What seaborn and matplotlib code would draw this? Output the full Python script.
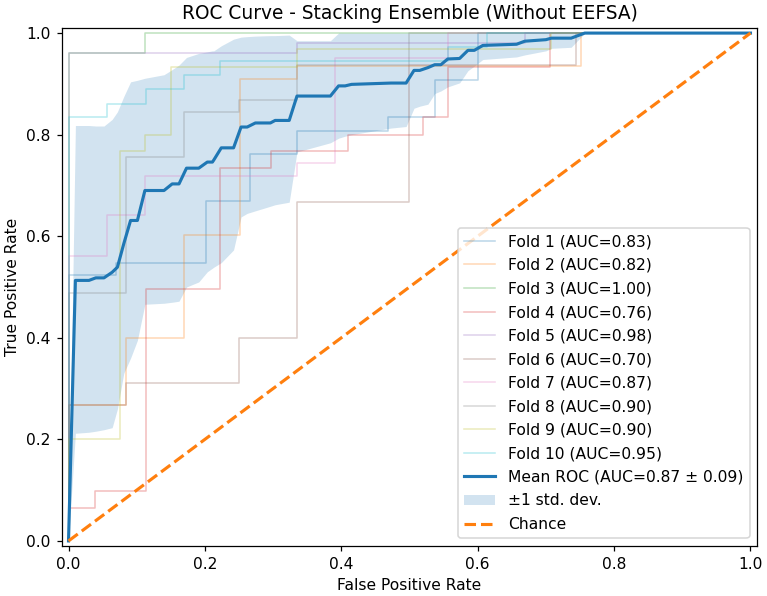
import numpy as np
import pandas as pd
import matplotlib
matplotlib.use("Agg")
import matplotlib.pyplot as plt
import seaborn as sns

# ---- data ----
fold_labels = ["Fold 1 (AUC=0.83)", "Fold 2 (AUC=0.82)", "Fold 3 (AUC=1.00)", "Fold 4 (AUC=0.76)",
               "Fold 5 (AUC=0.98)", "Fold 6 (AUC=0.70)", "Fold 7 (AUC=0.87)", "Fold 8 (AUC=0.90)",
               "Fold 9 (AUC=0.90)", "Fold 10 (AUC=0.95)"]

fold1_fpr = [0, 0, 0.069, 0.069, 0.202, 0.202, 0.2665, 0.2665, 0.335, 0.335, 0.4685, 0.4685, 0.537, 0.537, 0.60, 0.60, 1.0]
fold1_tpr = [0, 0.523, 0.523, 0.548, 0.548, 0.669, 0.669, 0.762, 0.762, 0.808, 0.808, 0.835, 0.835, 0.907, 0.907, 1.0, 1.0]

fold2_fpr = [0, 0, 0.085, 0.085, 0.169, 0.169, 0.2518, 0.2518, 0.335, 0.335, 0.752, 0.752, 1.0]
fold2_tpr = [0, 0.267, 0.267, 0.40, 0.40, 0.602, 0.602, 0.91, 0.91, 0.936, 0.936, 1.0, 1.0]

fold3_fpr = [0, 0, 0.112, 0.112, 1.0]
fold3_tpr = [0, 0.96, 0.96, 1.0, 1.0]

fold4_fpr = [0, 0, 0.0386, 0.0386, 0.113, 0.113, 0.2225, 0.2225, 0.297, 0.297, 0.41, 0.41, 0.52, 0.52, 0.556, 0.556, 0.706, 0.706, 1.0]
fold4_tpr = [0, 0.064, 0.064, 0.099, 0.099, 0.497, 0.497, 0.734, 0.734, 0.767, 0.767, 0.80, 0.80, 0.835, 0.835, 0.934, 0.934, 1.0, 1.0]

fold5_fpr = [0, 0, 0.335, 0.335, 0.669, 0.669, 1.0]
fold5_tpr = [0, 0.96, 0.96, 0.98, 0.98, 1.0, 1.0]

fold6_fpr = [0, 0, 0.085, 0.085, 0.25, 0.25, 0.335, 0.335, 0.5, 0.5, 0.744, 0.744, 1.0]
fold6_tpr = [0, 0.267, 0.267, 0.311, 0.311, 0.40, 0.40, 0.668, 0.668, 0.937, 0.937, 1.0, 1.0]

fold7_fpr = [0, 0, 0.056, 0.056, 0.112, 0.112, 0.335, 0.335, 0.391, 0.391, 0.556, 0.556, 1.0]
fold7_tpr = [0, 0.562, 0.562, 0.641, 0.641, 0.718, 0.718, 0.744, 0.744, 0.951, 0.951, 1.0, 1.0]

fold8_fpr = [0, 0, 0.085, 0.085, 0.169, 0.169, 0.25, 0.25, 0.335, 0.335, 0.5, 0.5, 1.0]
fold8_tpr = [0, 0.488, 0.488, 0.756, 0.756, 0.845, 0.845, 0.8675, 0.8675, 0.937, 0.937, 1.0, 1.0]

fold9_fpr = [0, 0, 0.075, 0.075, 0.112, 0.112, 0.15, 0.15, 0.335, 0.335, 0.708, 0.708, 1.0]
fold9_tpr = [0, 0.2, 0.2, 0.768, 0.768, 0.80, 0.80, 0.934, 0.934, 0.969, 0.969, 1.0, 1.0]

fold10_fpr = [0, 0, 0.056, 0.056, 0.113, 0.113, 0.169, 0.169, 0.2225, 0.2225, 0.557, 0.557, 0.613, 0.613, 1.0]
fold10_tpr = [0, 0.835, 0.835, 0.861, 0.861, 0.889, 0.889, 0.917, 0.917, 0.946, 0.946, 0.973, 0.973, 1.0, 1.0]

mean_fpr = [0, 0.0101, 0.030, 0.040, 0.052, 0.064, 0.0717, 0.081, 0.091, 0.101, 0.112, 0.140, 0.152, 0.162,
            0.173, 0.191, 0.2035, 0.211, 0.213, 0.224, 0.242, 0.253, 0.262, 0.274, 0.296, 0.303, 0.3236,
            0.335, 0.384, 0.396, 0.4056, 0.415, 0.473, 0.495, 0.5066, 0.515, 0.527, 0.537, 0.546, 0.556,
            0.5735, 0.5857, 0.595, 0.6076, 0.657, 0.669, 0.700, 0.708, 0.737, 0.757, 1.0]
mean_tpr = [0, 0.513, 0.513, 0.518, 0.518, 0.529, 0.539, 0.585, 0.631, 0.631, 0.690, 0.690, 0.703, 0.703,
            0.734, 0.734, 0.746, 0.746, 0.750, 0.774, 0.774, 0.815, 0.815, 0.823, 0.823, 0.828, 0.828,
            0.876, 0.876, 0.896, 0.896, 0.899, 0.9016, 0.9016, 0.9265, 0.9265, 0.932, 0.9377, 0.9377, 0.949,
            0.950, 0.966, 0.966, 0.9757, 0.978, 0.984, 0.987, 0.990, 0.990, 1.0, 1.0]
tpr_upper = [0, 0.818, 0.818, 0.817, 0.817, 0.83, 0.845, 0.875, 0.904, 0.907, 0.911, 0.918, 0.928, 0.937,
             0.952, 0.960, 0.963, 0.965, 0.965, 0.975, 0.988, 0.992, 0.993, 0.994, 0.995, 0.995, 0.996,
             0.985, 0.985, 1.0, 1.0, 1.0, 1.0, 1.0, 1.0, 1.0, 1.0, 1.0, 1.0, 1.0,
             1.0, 1.0, 1.0, 1.0, 1.0, 1.0, 1.0, 1.0, 1.0, 1.0, 1.0]
tpr_lower = [0, 0.212, 0.214, 0.216, 0.219, 0.223, 0.26, 0.33, 0.36, 0.395, 0.466, 0.468, 0.470, 0.472,
             0.50, 0.51, 0.53, 0.537, 0.539, 0.548, 0.573, 0.638, 0.645, 0.650, 0.659, 0.662, 0.667,
             0.766, 0.784, 0.793, 0.797, 0.800, 0.813, 0.816, 0.852, 0.856, 0.860, 0.881, 0.886, 0.894,
             0.902, 0.926, 0.935, 0.948, 0.953, 0.957, 0.965, 0.970, 0.972, 1.0, 1.0]

mean_label = "Mean ROC (AUC=0.87 \u00b1 0.09)"
std_label = "\u00b11 std. dev."
chance_label = "Chance"
chance_x = [0, 1]
chance_y = [0, 1]

fold_fprs = [fold1_fpr, fold2_fpr, fold3_fpr, fold4_fpr, fold5_fpr,
             fold6_fpr, fold7_fpr, fold8_fpr, fold9_fpr, fold10_fpr]
fold_tprs = [fold1_tpr, fold2_tpr, fold3_tpr, fold4_tpr, fold5_tpr,
             fold6_tpr, fold7_tpr, fold8_tpr, fold9_tpr, fold10_tpr]

# ---- figure ----
DPI = 112
fig = plt.figure(figsize=(767 / DPI, 596 / DPI), dpi=DPI)
ax = fig.add_axes([61.7 / 767, 50 / 596, 695.6 / 767, 518 / 596])

palette = sns.color_palette("tab10", 10)
for i in range(10):
    df = pd.DataFrame({"fpr": fold_fprs[i], "tpr": fold_tprs[i]})
    sns.lineplot(data=df, x="fpr", y="tpr", sort=False, estimator=None, ax=ax,
                 color=palette[i], lw=1, alpha=0.3, label=fold_labels[i])

mdf = pd.DataFrame({"fpr": mean_fpr, "tpr": mean_tpr})
sns.lineplot(data=mdf, x="fpr", y="tpr", sort=False, estimator=None, ax=ax,
             color="tab:blue", lw=2, label=mean_label)
ax.fill_between(mean_fpr, tpr_lower, tpr_upper, color="tab:blue", alpha=0.2, lw=0, label=std_label)

cdf = pd.DataFrame({"x": chance_x, "y": chance_y})
sns.lineplot(data=cdf, x="x", y="y", ax=ax, color="tab:orange", lw=2, linestyle="--", label=chance_label)

ax.set_xlim(-0.01, 1.01)
ax.set_ylim(-0.01, 1.01)
ax.set_xlabel("False Positive Rate")
ax.set_ylabel("True Positive Rate")
ax.set_title("ROC Curve - Stacking Ensemble (Without EEFSA)")
ax.legend(loc="lower right", labelspacing=0.55)

fig.savefig("out.png", dpi=DPI)
